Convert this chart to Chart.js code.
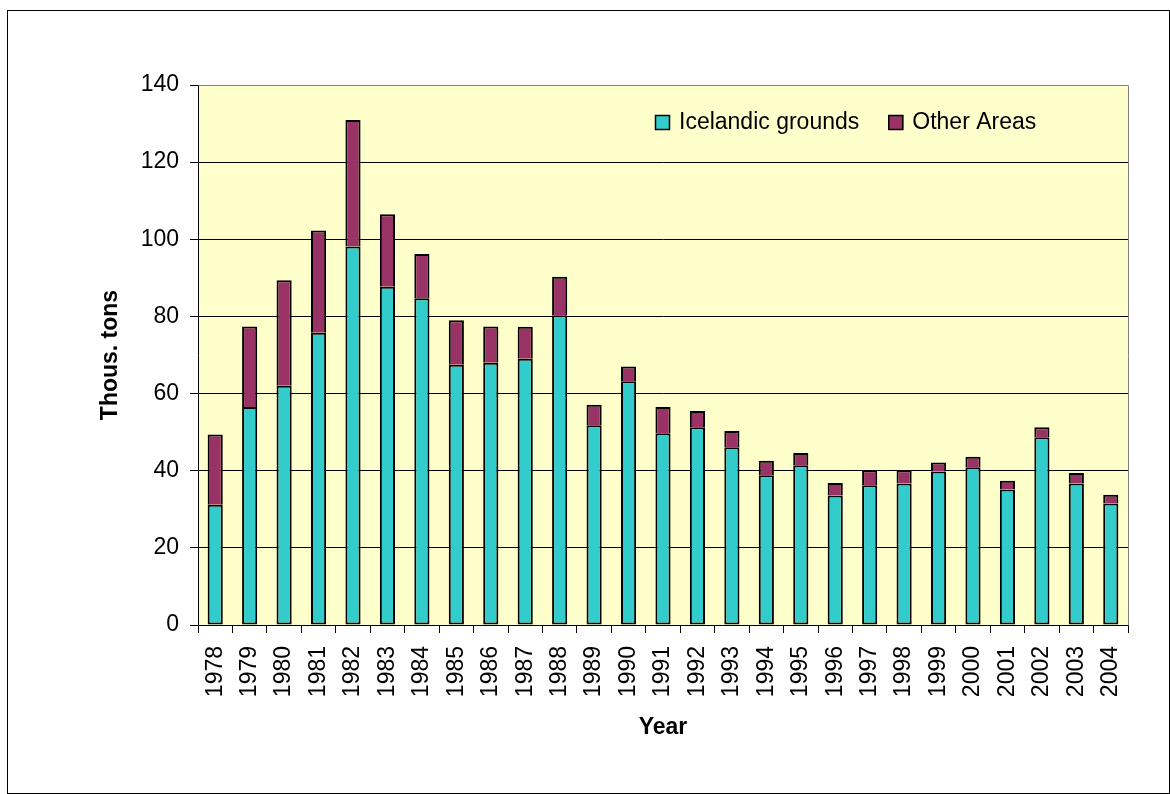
<!DOCTYPE html>
<html>
<head>
<meta charset="utf-8">
<script src="https://cdn.jsdelivr.net/npm/chart.js@4.4.1/dist/chart.umd.min.js"></script>
<style>
  html, body { margin: 0; padding: 0; background: #ffffff; }
  #wrap { width: 1170px; height: 794px; position: relative; }
</style>
</head>
<body>
<div id="wrap"><canvas id="c" width="1170" height="794"></canvas></div>
<script>
const years = ['1978','1979','1980','1981','1982','1983','1984','1985','1986','1987','1988','1989','1990','1991','1992','1993','1994','1995','1996','1997','1998','1999','2000','2001','2002','2003','2004'];
const icelandicGrounds = [31.2,56.5,62.0,75.8,98.1,87.7,84.7,67.5,68.0,69.0,80.3,51.8,63.2,49.7,51.3,46.1,38.8,41.4,33.6,36.2,36.7,39.8,40.9,35.1,48.7,36.7,31.5];
const otherAreas = [18.2,20.9,27.4,26.5,32.8,18.8,11.5,11.5,9.4,8.3,10.0,5.3,3.8,6.8,4.2,4.2,3.8,3.2,3.2,3.9,3.4,2.3,2.7,2.3,2.6,2.7,2.3];
const seriesNames = ['Icelandic grounds', 'Other Areas'];
const yTitle = 'Thous. tons';
const xTitle = 'Year';

const FONT = '"Liberation Sans", Arial, sans-serif';
const FS = 23;

const bgPlugin = {
  id: 'bgPlugin',
  beforeDraw(chart) {
    const {ctx, chartArea: a} = chart;
    ctx.save();
    ctx.fillStyle = '#FFFFCC';
    ctx.fillRect(a.left, a.top, a.right - a.left, a.bottom - a.top);
    ctx.restore();
  },
  afterDraw(chart) {
    const {ctx, chartArea: a} = chart;
    ctx.save();
    // plot area grey border (top & right)
    ctx.strokeStyle = '#808080';
    ctx.lineWidth = 1;
    ctx.beginPath();
    ctx.moveTo(Math.round(a.left) + 0.5, Math.round(a.top) + 0.5);
    ctx.lineTo(Math.round(a.right) + 0.5, Math.round(a.top) + 0.5);
    ctx.lineTo(Math.round(a.right) + 0.5, Math.round(a.bottom) + 0.5);
    ctx.stroke();
    // outer frame
    ctx.strokeStyle = '#000000';
    ctx.strokeRect(7.5, 10.5, 1162, 783);
    // legend
    ctx.font = FS + 'px ' + FONT;
    ctx.textBaseline = 'middle';
    ctx.textAlign = 'left';
    let x = 655;
    const yMid = 122.5;
    chart.data.datasets.forEach((ds, i) => {
      ctx.fillStyle = ds.backgroundColor;
      ctx.fillRect(x, yMid - 7.5, 15, 15);
      ctx.strokeStyle = '#000';
      ctx.lineWidth = 1.5;
      ctx.strokeRect(x + 0.5, yMid - 7, 14, 14);
      ctx.fillStyle = '#000';
      ctx.fillText(ds.label, x + 24, yMid);
      x = x + 24 + ctx.measureText(ds.label).width + 29;
    });
    ctx.restore();
  }
};

new Chart(document.getElementById('c'), {
  type: 'bar',
  data: {
    labels: years,
    datasets: [
      { label: seriesNames[0], data: icelandicGrounds, backgroundColor: '#33CCCC', borderColor: '#000000',
        borderWidth: 2, borderSkipped: false },
      { label: seriesNames[1], data: otherAreas, backgroundColor: '#993366', borderColor: '#000000',
        borderWidth: {top: 2, left: 2, right: 2, bottom: 0}, borderSkipped: false }
    ]
  },
  options: {
    responsive: false,
    animation: false,
    devicePixelRatio: 1,
    layout: { padding: { left: 97, right: 42, top: 85, bottom: 53 } },
    plugins: { legend: { display: false }, tooltip: { enabled: false } },
    datasets: { bar: { categoryPercentage: 1.0, barPercentage: 0.44 } },
    scales: {
      x: {
        stacked: true,
        afterFit(s) { s.height = 116; },
        grid: { display: true, drawOnChartArea: false, drawTicks: true, tickLength: 8, color: '#000', offset: true },
        border: { display: true, color: '#000', width: 1 },
        ticks: { autoSkip: false, minRotation: 90, maxRotation: 90, padding: 13, color: '#000',
                 font: { family: FONT, size: FS } },
        title: { display: true, text: xTitle, color: '#000', padding: 0,
                 font: { family: FONT, size: FS, weight: 'bold', lineHeight: 1.2 } }
      },
      y: {
        stacked: true,
        min: 0, max: 140,
        afterFit(s) { s.width = 101; },
        grid: { color: (c) => (c.tick && c.tick.value === 140) ? '#808080' : '#000', tickColor: '#000', lineWidth: 1, tickLength: 8 },
        border: { display: true, color: '#000', width: 1 },
        ticks: { stepSize: 20, padding: 11, color: '#000', font: { family: FONT, size: FS } },
        title: { display: true, text: yTitle, color: '#000', padding: 0,
                 font: { family: FONT, size: FS, weight: 'bold', lineHeight: 1.2 } }
      }
    }
  },
  plugins: [bgPlugin]
});
</script>
</body>
</html>
